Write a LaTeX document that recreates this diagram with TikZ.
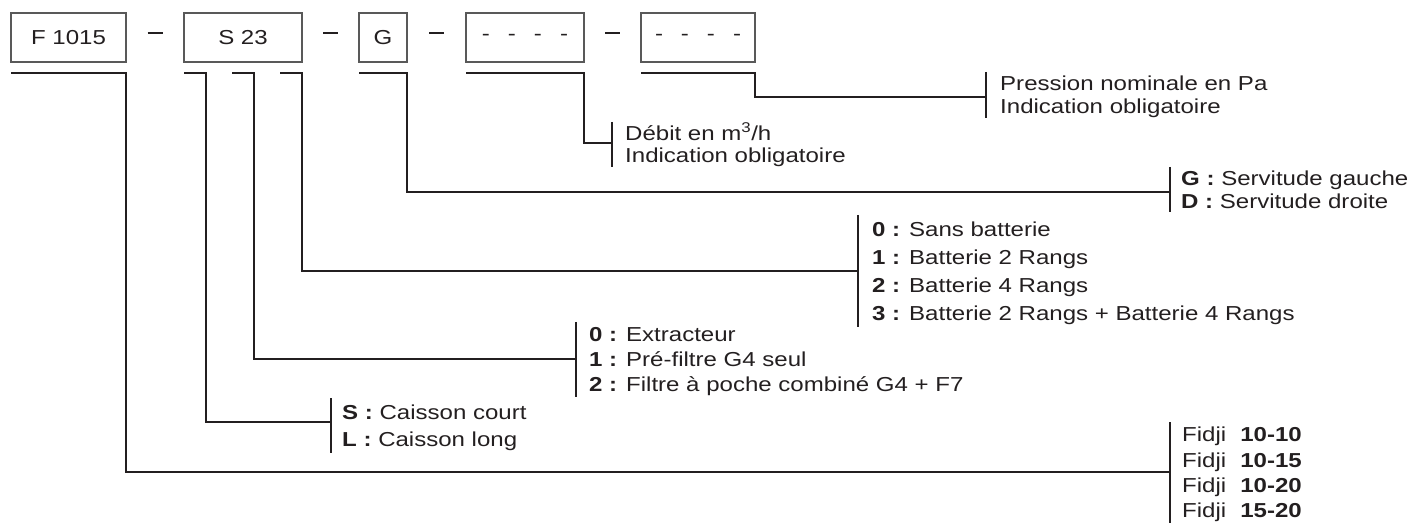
\documentclass[tikz,border=0pt]{standalone}
\usepackage{fontspec}
\setmainfont{Liberation Sans}[FakeStretch=1.19]
\usetikzlibrary{calc}
\definecolor{ink}{HTML}{231F20}
\begin{document}
\begin{tikzpicture}[x=1pt,y=-1pt,
  box/.style={draw=black!65, line width=1.3pt, inner sep=0pt, outer sep=0pt,
    minimum height=49pt, font=\fontsize{20.2}{23}\selectfont, text=ink},
  conn/.style={draw=ink, line width=2pt},
  brk/.style={draw=ink, line width=2pt},
  lbl/.style={anchor=base west, inner sep=0pt, font=\fontsize{20.2}{23}\selectfont, text=ink},
]
\useasboundingbox (0,0) rectangle (1410,526);

% boxes
\node[box, minimum width=115pt] (b1) at (68.5,37.5) {F 1015};
\node[box, minimum width=118pt] (b2) at (243,37.5) {S 23};
\node[box, minimum width=48pt] (b3) at (383,37.5) {G};
\node[box, minimum width=118pt] (b4) at (525,37.5) {-\hspace{18pt}-\hspace{18pt}-\hspace{18pt}-};
\node[box, minimum width=114pt] (b5) at (698,37.5) {-\hspace{18pt}-\hspace{18pt}-\hspace{18pt}-};

% dashes between boxes
\draw[conn] ($(b1.east)!.5!(b2.west)+(-7.5,-4.5)$) -- ++(15,0);
\draw[conn] ($(b2.east)!.5!(b3.west)+(-7.5,-4.5)$) -- ++(15,0);
\draw[conn] ($(b3.east)!.5!(b4.west)+(-7.5,-4.5)$) -- ++(15,0);
\draw[conn] ($(b4.east)!.5!(b5.west)+(-7.5,-4.5)$) -- ++(15,0);

% junction coordinates on brackets
\coordinate (jP) at (986,97);
\coordinate (jD) at (612,143);
\coordinate (jG) at (1170,192);
\coordinate (jB) at (858,271);
\coordinate (jE) at (576,359);
\coordinate (jS) at (331,422);
\coordinate (jF) at (1170,472);

% brackets
\draw[brk] (986,72) -- (986,118);
\draw[brk] (612,122) -- (612,167);
\draw[brk] (1170,167) -- (1170,212);
\draw[brk] (858,215) -- (858,327);
\draw[brk] (576,322) -- (576,397);
\draw[brk] (331,398) -- (331,453);
\draw[brk] (1170,422) -- (1170,523);

% connectors
\draw[conn] ($(b1.south west)+(0,11)$) -- ($(b1.south east)+(0,11)$) |- (jF);
\draw[conn] ($(b2.south west)+(0,11)$) -- ++(22,0) |- (jS);
\draw[conn] ($(b2.south west)+(48,11)$) -- ++(22,0) |- (jE);
\draw[conn] ($(b2.south west)+(96,11)$) -- ($(b2.south east)+(0,11)$) |- (jB);
\draw[conn] ($(b3.south west)+(0,11)$) -- ($(b3.south east)+(0,11)$) |- (jG);
\draw[conn] ($(b4.south west)+(0,11)$) -- ($(b4.south east)+(0,11)$) |- (jD);
\draw[conn] ($(b5.south west)+(0,11)$) -- ($(b5.south east)+(0,11)$) |- (jP);

% labels
\node[lbl] (p1) at (1000,90.8) {Pression nominale en Pa};
\node[lbl] (p2) at (1000,113.8) {Indication obligatoire};

\node[lbl] (d1) at (625,140.5) {Débit en m\textsuperscript{3}/h};
\node[lbl] (d2) at (625,163) {Indication obligatoire};

\node[lbl] (g1) at (1181,185.2) {\textbf{G :} Servitude gauche};
\node[lbl] (g2) at (1181,208.2) {\textbf{D :} Servitude droite};

\node[lbl] (c0) at (872,236.2) {\textbf{0 :} Sans batterie};
\node[lbl] (c1) at (872,264.2) {\textbf{1 :} Batterie 2 Rangs};
\node[lbl] (c2) at (872,292.2) {\textbf{2 :} Batterie 4 Rangs};
\node[lbl] (c3) at (872,320.2) {\textbf{3 :} Batterie 2 Rangs + Batterie 4 Rangs};

\node[lbl] (e0) at (589,341.7) {\textbf{0 :} Extracteur};
\node[lbl] (e1) at (589,366.7) {\textbf{1 :} Pré-filtre G4 seul};
\node[lbl] (e2) at (589,391.7) {\textbf{2 :} Filtre à poche combiné G4 + F7};

\node[lbl] (s1) at (342,419) {\textbf{S :} Caisson court};
\node[lbl] (s2) at (342,446.5) {\textbf{L :} Caisson long};

\node[lbl] (f1) at (1182,441.8) {Fidji\hspace{14pt}\textbf{10-10}};
\node[lbl] (f2) at (1182,467.1) {Fidji\hspace{14pt}\textbf{10-15}};
\node[lbl] (f3) at (1182,492.3) {Fidji\hspace{14pt}\textbf{10-20}};
\node[lbl] (f4) at (1182,517.6) {Fidji\hspace{14pt}\textbf{15-20}};
\end{tikzpicture}
\end{document}
